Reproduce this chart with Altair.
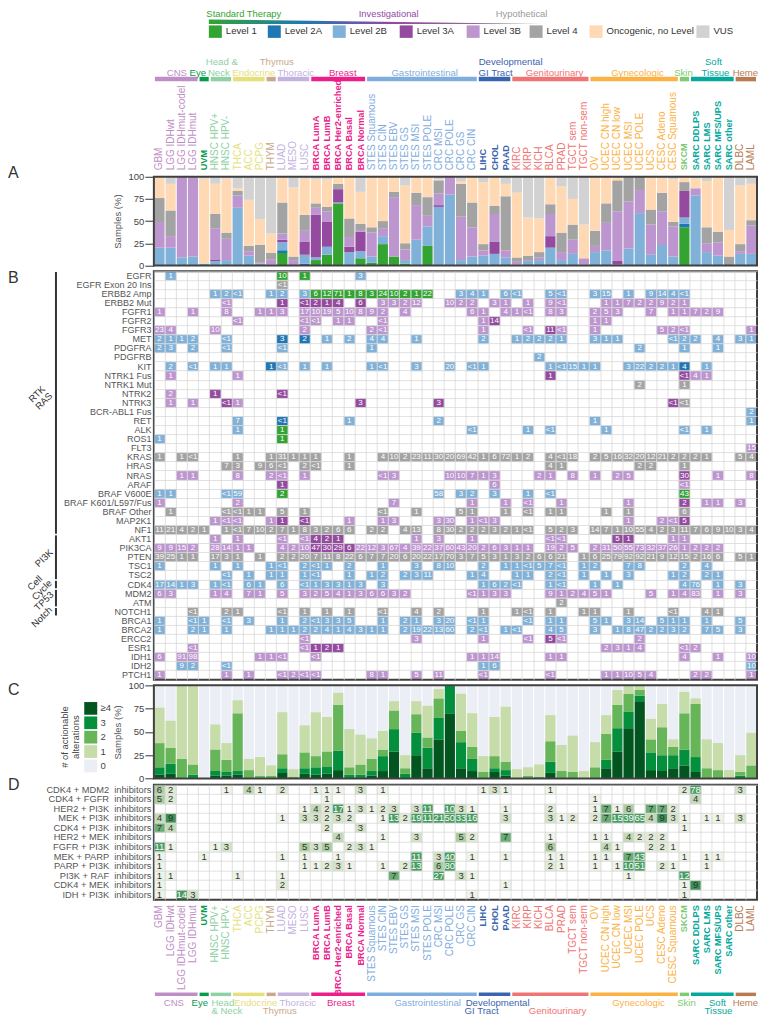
import altair as alt
import pandas as pd

FONT = "Liberation Sans"
W, CW = 603.6, 603.6 / 54
H_TOP, H_A, H_B, H_C, H_D, H_F = 161.1, 88.7, 409.0, 93.2, 115.0, 108.0
GAP = 5.5

SAMPLES = ["GBM","LGG IDHwt","LGG IDHmut-codel","LGG IDHmut","UVM","HNSC HPV+","HNSC HPV-","THCA","ACC","PCPG","THYM",
           "LUAD","MESO","LUSC","BRCA LumA","BRCA LumB","BRCA Her2-enriched","BRCA Basal","BRCA Normal","STES Squamous",
           "STES CIN","STES EBV","STES GS","STES MSI","STES POLE","CRC MSI","CRC POLE","CRC GS","CRC CIN","LIHC","CHOL",
           "PAAD","KIRC","KIRP","KICH","BLCA","PRAD","TGCT sem","TGCT non-sem","OV","UCEC CN high","UCEC CN low",
           "UCEC MSI","UCEC POLE","UCS","CESC Adeno","CESC Squamous","SKCM","SARC DDLPS","SARC LMS","SARC MFS/UPS",
           "SARC other","DLBC","LAML"]
BOLD = {"UVM","LIHC","CHOL","PAAD","SKCM","SARC DDLPS","SARC LMS","SARC MFS/UPS","SARC other"} | {s for s in SAMPLES if s.startswith("BRCA")}

GROUPS = ["CNS","Eye","Head & Neck","Endocrine","Thymus","Thoracic","Breast","Gastrointestinal","Developmental GI Tract",
          "Genitourinary","Gynecologic","Skin","Soft Tissue","Heme"]
GROUP_START = [0,4,5,7,10,11,14,19,29,32,39,47,48,52]
GROUP_END = [4,5,7,10,11,14,19,29,32,39,47,48,52,54]
GROUP_COLOR = ["#c08ec6","#0a9a4e","#8fd0a5","#e6e07c","#c9a98a","#c4b3de","#ec1e8c","#7fadde","#3b64ae","#ef7474",
               "#fbb244","#7fca72","#04a89c","#b87c52"]

LEVELS = ["Level 1","Level 2A","Level 2B","Level 3A","Level 3B","Level 4","Oncogenic, no Level","VUS"]
LEVEL_COLOR = ["#33a432","#1f78b4","#80b1d8","#944a9f","#bd95cf","#a3a3a3","#fed9b4","#d2d2d2"]
LEVEL_SWATCH_X = [209,268,333,400,467,530,590,697]

# Panel A: cumulative top of each level, per sample
A_TOPS = [
 [0,0,20,20,49,76,100,100],[0,0,20,20,33,62,92,100],[0,0,9,9,100,100,100,100],[0,0,10,10,100,100,100,100],
 [0,0,2,2,2,2,98,100],[0,0,5,6,42,58,92,100],[0,0,6,6,30,37,98,100],[0,0,65,65,79,84,87,100],[0,0,11,11,16,22,74,100],
 [0,0,2,2,3,23,52,100],[0,0,1,1,7,14,36,100],[14,17,26,29,36,71,100,100],[0,0,0,0,6,10,88,100],[0,2,12,27,39,57,98,100],
 [6,6,9,57,65,70,97,100],[12,12,21,49,61,66,97,100],[70,70,71,86,86,92,100,100],[0,0,15,21,32,53,100,100],
 [8,8,16,38,40,47,83,100],[3,3,10,10,37,43,100,100],[24,24,33,33,42,50,100,100],[10,10,10,10,77,83,100,100],
 [2,2,6,6,18,25,90,100],[0,0,29,29,68,82,100,100],[22,22,44,44,56,77,100,100],[0,0,66,68,81,96,97,100],
 [0,0,80,80,100,100,100,100],[0,0,6,6,55,92,95,100],[0,0,10,10,43,71,100,100],[0,0,11,11,17,24,94,100],
 [0,0,13,27,58,67,100,100],[0,0,9,9,17,78,92,100],[0,0,1,1,4,9,82,100],[0,0,5,5,6,11,54,100],[0,0,6,6,9,15,53,100],
 [0,0,20,33,58,69,100,100],[0,0,6,6,15,37,89,100],[0,0,13,13,29,46,75,100],[0,0,1,1,8,8,46,100],[0,0,15,15,22,39,100,100],
 [0,0,17,17,48,70,100,100],[0,0,1,5,61,96,99,100],[0,0,19,19,72,100,100,100],[0,0,59,59,85,100,100,100],
 [0,0,12,12,46,63,100,100],[0,0,23,23,61,82,100,100],[0,0,10,10,44,49,97,100],[43,47,54,84,84,94,100,100],
 [0,0,79,79,87,87,98,100],[0,0,15,15,25,43,95,100],[0,0,11,11,26,38,100,100],[0,0,0,0,0,10,40,100],
 [0,0,13,13,16,24,90,100],[0,0,13,13,45,51,92,100]]

# Panel B rows: level token followed by column:label pairs
R_EGFR = "B 1:1 18:3 L1 11:10 13:1"
R_EGFR20 = "G 11:<1"
R_ERBB2A = "B 5:1 6:2 7:<1 10:1 11:2 13:3 27:3 28:4 29:1 31:6 32:<1 35:5 36:<1 39:3 40:15 42:1 44:9 45:14 46:4 47:<1 L1 14:6 15:12 16:71 17:1 18:8 19:3 20:24 21:10 22:2 23:1 24:22"
R_ERBB2M = "Q 6:<1 20:3 21:3 22:2 23:12 26:10 27:2 28:2 30:3 31:1 33:1 35:9 36:<1 40:1 41:1 42:7 43:2 44:2 45:9 46:2 47:1 P 11:1 13:<1 14:2 15:1 16:4 18:6"
R_FGFR1 = "Q 0:1 3:1 6:8 9:1 10:1 11:3 13:17 14:10 15:19 16:5 17:10 18:8 19:9 20:2 22:4 28:6 29:1 31:4 32:1 33:<1 35:8 36:3 39:2 40:5 41:3 44:7 46:1 47:1 48:7 49:2 50:9"
R_FGFR2 = "Q 7:<1 13:<1 14:<1 16:1 17:1 20:<1 29:1 39:1 40:1 P 30:14"
R_FGFR3 = "Q 0:23 1:4 5:10 13:2 19:2 20:<1 29:1 33:<1 36:<1 39:1 45:5 46:2 47:<1 53:1 P 35:11"
R_MET = "B 0:2 1:1 2:1 3:2 6:<1 15:1 17:2 19:4 20:4 23:1 29:2 32:1 33:2 34:2 35:2 36:1 39:3 40:1 41:1 46:<1 47:2 48:2 50:4 52:3 53:1 A 11:3 13:2"
R_PDGFRA = "B 0:2 1:3 3:2 6:<1 11:<1 19:1 43:2 47:1 50:1"
R_PDGFRB = "B 34:2"
R_KIT = "B 1:2 3:<1 5:1 6:1 11:<1 13:1 15:1 19:1 20:<1 23:3 26:20 28:<1 29:1 35:1 36:<1 37:15 38:1 39:1 42:3 43:22 44:2 45:2 46:1 49:1 A 10:1 47:4"
R_NTRK1F = "Q 1:1 7:1 48:4 49:1 P 35:1 47:<1"
R_NTRK1M = "G 43:2 47:1"
R_NTRK2 = "Q 1:2 P 5:1 11:<1"
R_NTRK3 = "Q 1:1 3:1 7:1 P 6:<1 18:3 25:3 46:<1 G 47:<1"
R_BCR = "B 53:2"
R_RET = "B 7:7 17:1 25:2 39:1 53:1 A 11:<1"
R_ALK = "B 7:1 28:<1 33:1 35:<1 40:1 47:<1 49:1 L1 11:1"
R_ROS1 = "B 0:1 L1 11:1"
R_FLT3 = "Q 53:15"
R_KRAS = "G 0:1 2:1 3:<1 7:1 10:1 11:31 12:1 13:1 14:1 17:1 20:4 21:10 22:2 23:23 24:11 25:30 26:20 27:69 28:42 29:1 30:6 31:72 32:1 33:2 35:4 36:<1 37:18 39:2 40:5 41:16 42:32 43:20 44:12 45:21 46:2 47:2 48:2 49:1 52:5 53:4"
R_HRAS = "G 6:7 7:3 9:9 10:6 11:<1 13:2 14:<1 17:1 35:4 36:1 43:2 44:2 47:1"
R_NRAS = "Q 2:1 3:1 7:8 10:2 11:<1 13:1 20:<1 21:3 26:10 27:10 28:7 29:1 30:3 34:2 35:1 37:8 39:1 41:2 42:5 50:1 53:8 P 47:30"
R_ARAF = "P 11:1 Q 30:6 47:<1"
R_V600E = "B 0:1 1:1 6:<1 7:59 25:58 27:3 28:2 30:3 33:1 35:<1 L1 11:2 47:43"
R_K601 = "Q 0:1 7:2 21:7 28:1 31:1 33:<1 36:1 42:1 49:1 50:1 52:3 P 47:2"
R_BRAFO = "G 1:1 6:<1 7:<1 8:1 9:1 11:5 13:1 20:<1 23:1 27:5 28:1 31:1 33:<1 35:1 36:1 40:1 42:1 47:6"
R_MAP2K1 = "Q 5:1 6:<1 7:<1 10:1 17:1 20:1 21:3 25:3 26:30 28:1 29:<1 30:3 42:1 45:2 46:<1 P 11:1 13:<1 47:5"
R_NF1 = "G 0:11 1:21 2:4 3:2 4:1 6:1 7:<1 8:7 9:10 10:2 11:7 12:1 13:8 14:3 15:2 16:6 17:6 19:2 20:2 22:4 23:13 25:8 26:30 27:2 28:2 29:2 30:3 31:2 32:1 33:<1 35:5 36:2 37:3 39:14 40:7 41:1 42:10 43:55 44:4 45:2 46:3 47:11 48:7 49:6 50:9 51:10 52:3 53:4"
R_AKT1 = "Q 5:1 7:1 11:<1 13:<1 23:1 25:3 28:1 35:<1 36:<1 46:1 47:1 P 14:4 15:2 16:1 41:5 42:1"
R_PIK3CA = "Q 0:9 1:9 2:15 3:2 5:28 6:14 7:1 8:1 11:4 12:2 13:10 18:22 19:12 20:3 21:67 22:4 23:39 24:22 25:37 26:60 27:43 28:20 29:2 30:6 31:3 32:1 33:1 35:19 36:2 37:5 39:2 40:31 41:50 42:55 43:73 44:32 45:37 46:26 47:1 48:2 49:2 50:2 P 14:47 15:30 16:29 17:6"
R_PTEN = "G 0:39 1:25 2:1 3:1 5:17 6:3 7:1 9:1 11:2 12:2 13:20 14:7 15:11 16:8 17:22 18:6 19:7 20:7 21:20 22:6 23:20 24:22 25:17 26:70 27:3 28:7 29:5 30:3 31:1 32:3 33:2 34:6 35:6 36:21 38:1 39:6 40:25 41:79 42:92 43:92 44:21 45:9 46:12 47:15 48:2 49:16 50:6 52:5 53:1"
R_TSC1 = "B 0:1 5:1 7:1 10:1 11:<1 13:2 14:<1 15:1 17:2 20:1 23:3 25:8 26:10 29:2 31:1 32:1 33:<1 34:5 35:7 36:<1 38:1 39:2 42:7 43:8 47:2 49:4"
R_TSC2 = "B 6:<1 8:1 10:1 11:1 13:1 14:<1 17:1 19:1 20:2 22:2 23:3 24:11 28:1 29:4 32:1 33:1 35:2 36:<1 38:1 40:1 42:3 46:1 47:2 49:2 50:1"
R_CDK4 = "B 0:17 1:14 2:1 3:3 5:1 6:<1 8:6 9:1 11:6 13:<1 14:1 15:3 16:3 17:1 18:3 20:3 29:1 30:6 31:2 32:<1 35:1 36:<1 39:1 41:1 47:4 48:76 50:1 52:3"
R_MDM2 = "Q 0:6 1:3 5:1 6:4 8:7 9:1 11:5 13:3 14:2 15:5 16:4 17:1 18:3 19:6 20:6 21:3 22:2 28:<1 29:1 30:3 31:3 35:9 36:1 37:2 38:4 39:5 40:1 44:5 46:1 47:4 48:83 50:1 52:3"
R_ATM = "G 36:2"
R_NOTCH1 = "G 3:<1 6:2 7:1 11:<1 13:1 15:1 17:1 20:<1 23:4 25:2 29:1 32:1 33:<1 35:1 38:1 39:1 42:1 46:<1 49:4 50:1"
R_BRCA1 = "B 0:1 3:<1 4:1 6:<1 8:3 11:1 13:2 14:<1 15:3 16:3 17:5 20:1 22:2 23:1 25:3 26:20 28:<1 29:1 33:<1 35:1 36:1 39:5 40:1 42:3 43:14 45:5 46:1 47:1 49:1 52:5"
R_BRCA2 = "B 0:1 3:2 4:1 6:1 10:1 11:1 12:1 13:2 14:2 15:4 16:1 17:4 18:3 19:1 20:1 22:2 23:19 24:22 25:13 26:60 28:2 29:<1 31:1 32:<1 35:4 36:5 39:3 41:1 42:8 43:47 44:2 45:2 46:3 47:2 49:7 50:5 52:3"
R_ERCC2 = "Q 13:<1 23:3 29:1 33:<1 36:<1 43:2 P 35:5"
R_ESR1 = "Q 3:<1 13:<1 40:2 41:3 42:1 43:4 47:<1 48:2 P 14:1 15:2 16:1"
R_IDH1 = "Q 0:6 2:91 3:98 9:1 10:1 11:<1 14:<1 28:1 29:1 30:14 35:1 36:1 47:4 50:1 53:10"
R_IDH2 = "B 2:9 3:2 6:<1 29:1 30:6 53:10"
R_PTCH1 = "Q 0:1 6:1 8:1 11:<1 12:2 13:<1 14:<1 19:8 20:1 23:5 25:11 29:<1 35:<1 40:1 41:1 42:10 43:5 44:4 48:2 49:2 53:1"

ROW_LABELS = ["EGFR","EGFR Exon 20 Ins","ERBB2 Amp","ERBB2 Mut","FGFR1","FGFR2","FGFR3","MET","PDGFRA","PDGFRB","KIT",
              "NTRK1 Fus","NTRK1 Mut","NTRK2","NTRK3","BCR-ABL1 Fus","RET","ALK","ROS1","FLT3","KRAS","HRAS","NRAS","ARAF",
              "BRAF V600E","BRAF K601/L597/Fus","BRAF Other","MAP2K1","NF1","AKT1","PIK3CA","PTEN","TSC1","TSC2","CDK4",
              "MDM2","ATM","NOTCH1","BRCA1","BRCA2","ERCC2","ESR1","IDH1","IDH2","PTCH1"]
ROW_CELLS = [R_EGFR,R_EGFR20,R_ERBB2A,R_ERBB2M,R_FGFR1,R_FGFR2,R_FGFR3,R_MET,R_PDGFRA,R_PDGFRB,R_KIT,R_NTRK1F,R_NTRK1M,
             R_NTRK2,R_NTRK3,R_BCR,R_RET,R_ALK,R_ROS1,R_FLT3,R_KRAS,R_HRAS,R_NRAS,R_ARAF,R_V600E,R_K601,R_BRAFO,R_MAP2K1,
             R_NF1,R_AKT1,R_PIK3CA,R_PTEN,R_TSC1,R_TSC2,R_CDK4,R_MDM2,R_ATM,R_NOTCH1,R_BRCA1,R_BRCA2,R_ERCC2,R_ESR1,
             R_IDH1,R_IDH2,R_PTCH1]
LEVEL_CODE = {"L1":LEVEL_COLOR[0],"A":LEVEL_COLOR[1],"B":LEVEL_COLOR[2],"P":LEVEL_COLOR[3],"Q":LEVEL_COLOR[4],"G":LEVEL_COLOR[5]}

PATHWAYS = [("RTK","RAS"),("PI3K",""),("Cell","Cycle"),("TP53",""),("Notch","")]
PATH_FIRST = [0,29,34,35,37]
PATH_LAST = [28,33,34,36,37]
PATH_TEXT_XY = [(37,392),(44,556),(35,581),(44,599),(42,615)]

# Panel C: cumulative tops for >=4, 3, 2, 1 alterations
C_TOPS = [[4,12,38,76],[5,16,33,62],[0,0,21,100],[0,4,15,100],[0,0,0,0],[3,8,31,58],[3,7,20,38],[4,8,70,84],[0,0,9,21],
 [0,0,3,23],[0,0,3,14],[6,11,26,71],[0,0,2,10],[5,11,28,57],[4,12,24,71],[5,13,29,66],[9,30,79,92],[0,4,12,53],[0,4,15,47],
 [3,8,21,43],[8,24,31,51],[29,53,73,83],[0,5,11,25],[25,49,69,83],[11,33,44,78],[42,65,86,96],[70,100,100,100],[11,39,51,91],
 [8,21,34,70],[0,0,7,24],[7,11,24,66],[3,9,18,77],[0,0,0,10],[0,0,3,12],[0,0,2,15],[6,18,40,68],[0,0,8,36],[0,0,7,46],
 [0,0,0,8],[0,0,12,39],[11,20,48,68],[29,54,79,95],[54,72,91,100],[83,89,95,100],[9,28,42,64],[8,25,55,80],[11,25,34,42],
 [14,31,70,93],[7,23,80,86],[0,0,11,42],[0,0,9,38],[0,0,0,9],[0,3,7,25],[0,0,14,49]]
C_LABELS = ["\u22654","3","2","1","0"]
C_COLORS = ["#03551f","#038f3c","#66b558","#c6dca9","#eceef6"]

D_ROWS = ["CDK4 + MDM2","CDK4 + FGFR","HER2 + PI3K","MEK + PI3K","CDK4 + PI3K","HER2 + MEK","FGFR + PI3K","MEK + PARP",
          "PARP + PI3K","PI3K + RAF","CDK4 + MEK","IDH + PI3K"]
D_1 = "0:6 1:2 6:1 8:4 9:1 11:2 14:1 15:1 16:1 18:3 20:1 29:1 30:3 31:1 35:1 47:2 48:78 52:3"
D_2 = "0:5 1:2 15:1 39:1 48:4"
D_3 = "13:1 14:4 15:2 16:17 17:1 18:3 19:1 20:2 21:3 23:3 24:11 26:10 27:3 28:1 31:1 35:2 39:1 40:7 41:1 42:6 44:7 45:7 46:2"
D_4 = "0:4 1:9 11:1 13:3 14:3 15:2 16:3 17:2 20:1 21:13 22:2 23:19 24:11 25:21 26:50 27:33 28:16 31:3 35:3 36:1 37:2 39:2 40:7 41:15 42:39 43:65 44:4 45:9 46:3 47:1 49:1 50:1 52:3"
D_5 = "0:7 1:4 15:2 18:3 47:1"
D_6 = "16:4 20:1 23:3 27:5 28:2 31:7 35:1 39:1 40:1 42:4 43:2 44:2 45:2"
D_7 = "0:11 1:1 5:1 6:3 13:5 14:3 15:5 17:2 18:3 19:1 35:6 40:4 41:1 44:2 45:2 46:1"
D_8 = "0:1 4:1 11:1 13:1 16:1 23:11 25:3 26:40 28:1 31:1 35:1 36:1 39:1 40:1 42:7 43:43 47:1 49:1 50:1"
D_9 = "0:1 13:1 14:1 15:2 16:3 17:1 20:1 22:2 23:13 25:6 26:80 35:2 36:1 39:1 41:1 42:10 43:51 45:2 46:1 49:1"
D_10 = "0:1 1:1 7:1 11:1 21:7 25:27 27:3 28:1 42:1 47:12"
D_11 = "0:1 11:2 31:1 47:1 48:9"
D_12 = "0:1 2:14 3:3 28:1 47:1"
D_CELLS = [D_1,D_2,D_3,D_4,D_5,D_6,D_7,D_8,D_9,D_10,D_11,D_12]
D_BREAKS = [2,3,4,5,7,9,10]
D_SHADES = ["#eef4e8","#e0ebd6","#d2e3c6","#c3dab6","#abce9f","#6aae76","#3f9055","#479c60"]

TOP_PHASES = ["Standard Therapy","Investigational","Hypothetical"]
TOP_PHASE_X = [244,389,522]
TOP_PHASE_COLOR = ["#33a432","#944a9f","#9a9a9a"]
WEDGE_X = [209,543]
WEDGE_TOP = [18,22.5]

TOP_GROUP_TEXT = [("CNS",177,71.5,0),("Eye",198,71.5,1),("Head &",222,60.5,2),("Neck",219,71.5,2),("Endocrine",254,71.5,3),
                  ("Thymus",277,60.5,4),("Thoracic",296,71.5,5),("Breast",343,71.5,6),("Gastrointestinal",425,71.5,7),
                  ("Developmental",511,60.5,8),("GI Tract",496,71.5,8),("Genitourinary",555,71.5,9),("Gynecologic",638,71.5,10),
                  ("Skin",684,71.5,11),("Soft",714,60.5,12),("Tissue",716,71.5,12),("Heme",746,71.5,13)]
BOTTOM_GROUP_TEXT = [("CNS",174,1000,0),("Eye",200,1000,1),("Head",223,1000,2),("& Neck",227,1008.5,2),("Endocrine",256,1000,3),
                     ("Thymus",280,1008.5,4),("Thoracic",298,1000,5),("Breast",341,1000,6),("Gastrointestinal",428,1000,7),
                     ("Developmental",498,1000,8),("GI Tract",482,1008.5,8),("Genitourinary",558,1008.5,9),("Gynecologic",639,1000,10),
                     ("Skin",687,1000,11),("Soft",718,1000,12),("Tissue",719,1008.5,12),("Heme",746,1000,13)]

LEFT, TOP_A = 154.0, 174.6
TOP_H = 8.0
TOP_B = TOP_A + H_A + GAP
TOP_C = TOP_B + H_B + GAP
TOP_D = TOP_C + H_C + GAP
TOP_F = TOP_D + H_D + GAP

ONE = pd.DataFrame({"k": [0]})
px_x = alt.Scale(domain=[0, W], range=[0, W])
def px_y(h):
    return alt.Scale(domain=[0, h], range=[0, h])
band_bar = alt.Scale(domain=SAMPLES, paddingInner=0.09, paddingOuter=0.045)
band_cell = alt.Scale(domain=SAMPLES, paddingInner=0, paddingOuter=0)
NOVIEW = alt.ViewConfig(stroke="transparent", strokeWidth=0)

def frame(h):
    return alt.Chart(ONE).mark_rect(filled=False, stroke="#404040", strokeWidth=2).encode(
        x=alt.value(0), x2=alt.value(W), y=alt.value(0), y2=alt.value(h))

def letter(t, y):
    return alt.Chart(pd.DataFrame({"t": [t]})).mark_text(align="left", baseline="middle", fontSize=16, font=FONT, color="#333333").encode(
        x=alt.value(-LEFT + 8), y=alt.value(y), text="t:N")

def sample_labels(h, anchor_y, align):
    out = []
    df = pd.DataFrame({"s": SAMPLES, "px": [(i + .5) * CW for i in range(len(SAMPLES))],
                       "c": [GROUP_COLOR[next(g for g in range(len(GROUPS)) if GROUP_START[g] <= i < GROUP_END[g])] for i in range(len(SAMPLES))],
                       "b": [s in BOLD for s in SAMPLES]})
    for bold, size in ((False, 10), (True, 9.2)):
        out.append(alt.Chart(df[df.b == bold]).mark_text(angle=270, align=align, baseline="middle", font=FONT, fontSize=size,
                                                         fontWeight="bold" if bold else "normal").encode(
            x=alt.X("px:Q", scale=px_x, axis=None), y=alt.value(anchor_y),
            text="s:N", color=alt.Color("c:N", scale=None)))
    return out

def group_layer(h, y0, y1, texts, page_top):
    bars = pd.DataFrame({"x0": [s * CW + 1 for s in GROUP_START], "x1": [e * CW - 1 for e in GROUP_END], "c": GROUP_COLOR,
                         "y0": [y0] * len(GROUPS), "y1": [y1] * len(GROUPS)})
    bar = alt.Chart(bars).mark_rect().encode(
        x=alt.X("x0:Q", scale=px_x, axis=None), x2="x1:Q",
        y=alt.Y("y0:Q", scale=px_y(h), axis=None), y2="y1:Q", color=alt.Color("c:N", scale=None))
    t = pd.DataFrame({"t": [a[0] for a in texts], "x": [a[1] - LEFT for a in texts], "y": [a[2] - page_top for a in texts],
                      "c": [GROUP_COLOR[a[3]] for a in texts]})
    txt = alt.Chart(t).mark_text(font=FONT, fontSize=9.6, baseline="middle", align="center").encode(
        x=alt.X("x:Q", scale=px_x, axis=None), y=alt.Y("y:Q", scale=px_y(h), axis=None),
        text="t:N", color=alt.Color("c:N", scale=None))
    return [bar, txt]

# ---- header
phase = pd.DataFrame({"t": TOP_PHASES, "x": [v - LEFT for v in TOP_PHASE_X], "c": TOP_PHASE_COLOR})
h_phase = alt.Chart(phase).mark_text(font=FONT, fontSize=9.4, baseline="middle").encode(
    x=alt.X("x:Q", scale=px_x, axis=None), y=alt.value(4.8), text="t:N", color=alt.Color("c:N", scale=None))
wedge = pd.DataFrame({"x": [v - LEFT for v in WEDGE_X], "y": [v - TOP_H for v in WEDGE_TOP], "y2": [22.5 - TOP_H] * 2})
h_wedge = alt.Chart(wedge).mark_area(color=alt.Gradient(gradient="linear", x1=0, x2=1, y1=0, y2=0, stops=[
    alt.GradientStop(color="#33a432", offset=0), alt.GradientStop(color="#1f78b4", offset=0.28),
    alt.GradientStop(color="#944a9f", offset=0.55), alt.GradientStop(color="#8a8a8a", offset=1)])).encode(
    x=alt.X("x:Q", scale=px_x, axis=None), y=alt.Y("y:Q", scale=px_y(H_TOP), axis=None), y2="y2:Q")
sw = pd.DataFrame({"t": LEVELS, "c": LEVEL_COLOR, "x": [v - LEFT for v in LEVEL_SWATCH_X],
                   "x2": [v - LEFT + 13 for v in LEVEL_SWATCH_X], "tx": [v - LEFT + 17 for v in LEVEL_SWATCH_X],
                   "y": [24 - TOP_H] * 8, "y2": [36.5 - TOP_H] * 8})
h_sw = alt.Chart(sw).mark_rect().encode(x=alt.X("x:Q", scale=px_x, axis=None), x2="x2:Q",
    y=alt.Y("y:Q", scale=px_y(H_TOP), axis=None), y2="y2:Q", color=alt.Color("c:N", scale=None))
h_swt = alt.Chart(sw).mark_text(font=FONT, fontSize=9.6, align="left", baseline="middle", color="#333333").encode(
    x=alt.X("tx:Q", scale=px_x, axis=None), y=alt.value(30 - TOP_H), text="t:N")
header = alt.layer(h_phase, h_wedge, h_sw, h_swt,
                   *group_layer(H_TOP, 75.5 - TOP_H, 80 - TOP_H, TOP_GROUP_TEXT, TOP_H),
                   *sample_labels(H_TOP, H_TOP, "left")).properties(width=W, height=H_TOP, view=NOVIEW)

# ---- panel A
a_rows = []
for i, tops in enumerate(A_TOPS):
    prev = 0
    for j, top in enumerate(tops):
        if top > prev:
            a_rows.append({"s": SAMPLES[i], "y0": prev, "y1": top, "c": LEVEL_COLOR[j]})
        prev = top
y_pct = lambda h: alt.Y("y0:Q", scale=alt.Scale(domain=[0, 100]), axis=alt.Axis(
    values=[0, 25, 50, 75, 100], title="Samples (%)", titleFont=FONT, titleFontSize=9.5, titleFontWeight="normal",
    titleColor="#555555", titleX=-31, titleY=h / 2, labelFont=FONT, labelFontSize=9.5, labelColor="#444444",
    labelPadding=1, tickSize=9, tickColor="#333333", domain=False, grid=False))
pa_bars = alt.Chart(pd.DataFrame(a_rows)).mark_rect().encode(
    x=alt.X("s:N", scale=band_bar, axis=None), y=y_pct(H_A), y2="y1:Q", color=alt.Color("c:N", scale=None))
panel_a = alt.layer(pa_bars, frame(H_A), letter("A", -4)).properties(width=W, height=H_A, view=NOVIEW)

# ---- panel B
def parse_levels(text):
    level, out = None, []
    for tok in text.split():
        if ":" in tok:
            c, lab = tok.split(":")
            out.append((int(c), lab, level))
        else:
            level = tok
    return out

b_rows = []
for label, cells in zip(ROW_LABELS, ROW_CELLS):
    for c, lab, lev in parse_levels(cells):
        b_rows.append({"s": SAMPLES[c], "r": label, "t": lab, "c": LEVEL_CODE[lev]})
b_df = pd.DataFrame(b_rows)
def x_grid():
    return alt.X("s:N", scale=band_cell, axis=alt.Axis(labels=False, ticks=False, domain=False, title=None, grid=True,
                 gridColor="#d4d4d4", gridWidth=0.7, bandPosition=0))
def y_grid(domain, size):
    return alt.Y("r:N", scale=alt.Scale(domain=domain, paddingInner=0, paddingOuter=0), axis=alt.Axis(
        title=None, ticks=False, domain=False, grid=True, gridColor="#d4d4d4", gridWidth=0.7, bandPosition=0,
        labelFont=FONT, labelFontSize=size, labelColor="#555555", labelPadding=3, labelLimit=200))
pb_cell = alt.Chart(b_df).mark_rect(stroke="#e6e6e6", strokeWidth=0.4).encode(
    x=x_grid(), y=y_grid(ROW_LABELS, 9), color=alt.Color("c:N", scale=None))
pb_text = alt.Chart(b_df).mark_text(font=FONT, fontSize=8, color="white", baseline="middle").encode(
    x=alt.X("s:N", scale=band_cell, axis=None), y=alt.Y("r:N", scale=alt.Scale(domain=ROW_LABELS, paddingInner=0, paddingOuter=0), axis=None), text="t:N")
RH = H_B / len(ROW_LABELS)
path = pd.DataFrame({"y": [f * RH + 0.8 for f in PATH_FIRST], "y2": [(l + 1) * RH - 0.8 for l in PATH_LAST]})
pb_path = alt.Chart(path).mark_rect(color="#333333").encode(
    x=alt.value(56 - LEFT - 1), x2=alt.value(56 - LEFT + 1),
    y=alt.Y("y:Q", scale=px_y(H_B), axis=None), y2="y2:Q")
pt = []
for (a, b), (px, py) in zip(PATHWAYS, PATH_TEXT_XY):
    pt.append({"t": a, "x": px - LEFT, "y": py - TOP_B})
    if b:
        pt.append({"t": b, "x": px + 7 - LEFT, "y": py + 7 - TOP_B})
pb_pt = alt.Chart(pd.DataFrame(pt)).mark_text(angle=315, font=FONT, fontSize=9.5, color="#333333", baseline="middle").encode(
    x=alt.X("x:Q", scale=px_x, axis=None), y=alt.Y("y:Q", scale=px_y(H_B), axis=None), text="t:N")
panel_b = alt.layer(pb_cell, pb_text, frame(H_B), letter("B", 7),
                    pb_path, pb_pt).resolve_scale(x="independent", y="independent").properties(width=W, height=H_B, view=NOVIEW)

# ---- panel C
c_rows = []
for i, tops in enumerate(C_TOPS):
    c_rows.append({"s": SAMPLES[i], "y0": 0, "y1": 100, "c": C_COLORS[4], "o": 0})
    prev = 0
    for j, top in enumerate(tops):
        if top > prev:
            c_rows.append({"s": SAMPLES[i], "y0": prev, "y1": top, "c": C_COLORS[j], "o": 1})
        prev = top
pc_bars = alt.Chart(pd.DataFrame(c_rows)).mark_rect().encode(
    x=alt.X("s:N", scale=band_bar, axis=None), y=y_pct(H_C), y2="y1:Q", color=alt.Color("c:N", scale=None),
    order="o:Q")
LEG_Y = [700 + 14.4 * i - TOP_C for i in range(5)]
leg = pd.DataFrame({"t": C_LABELS, "c": C_COLORS, "y": LEG_Y, "y2": [v + 12.7 for v in LEG_Y], "ym": [v + 6.4 for v in LEG_Y]})
pc_sw = alt.Chart(leg).mark_rect().encode(
    x=alt.value(84.3 - LEFT), x2=alt.value(97.3 - LEFT),
    y=alt.Y("y:Q", scale=px_y(H_C), axis=None), y2="y2:Q", color=alt.Color("c:N", scale=None))
pc_st = alt.Chart(leg).mark_text(font=FONT, fontSize=9.5, align="left", baseline="middle", color="#444444").encode(
    x=alt.value(100.5 - LEFT), y=alt.Y("ym:Q", scale=px_y(H_C), axis=None), text="t:N")
leg_title = pd.DataFrame({"t": ["# of actionable", "alterations"], "x": [65 - LEFT, 76.5 - LEFT], "y": [735 - TOP_C] * 2})
pc_lt = alt.Chart(leg_title).mark_text(font=FONT, fontSize=9.5, angle=270, color="#444444", baseline="middle").encode(
    x=alt.X("x:Q", scale=px_x, axis=None), y=alt.Y("y:Q", scale=px_y(H_C), axis=None), text="t:N")
panel_c = alt.layer(pc_bars, frame(H_C), letter("C", 5), pc_sw, pc_st, pc_lt).resolve_scale(
    x="independent", y="independent").properties(width=W, height=H_C, view=NOVIEW)

# ---- panel D
d_labels = [r + "\u00a0\u00a0inhibitors" for r in D_ROWS]
d_rows = []
for label, cells in zip(d_labels, D_CELLS):
    for tok in cells.split():
        c, v = tok.split(":")
        d_rows.append({"s": SAMPLES[int(c)], "r": label, "v": int(v)})
d_df = pd.DataFrame(d_rows)
d_df["w"] = d_df.v >= 10
pd_cell = alt.Chart(d_df).mark_rect(stroke="#e6e6e6", strokeWidth=0.4).encode(
    x=x_grid(), y=y_grid(d_labels, 9.3),
    color=alt.Color("v:Q", scale=alt.Scale(type="threshold", domain=D_BREAKS, range=D_SHADES), legend=None))
d_y = alt.Y("r:N", scale=alt.Scale(domain=d_labels, paddingInner=0, paddingOuter=0), axis=None)
pd_text = alt.Chart(d_df).mark_text(font=FONT, fontSize=9.5, baseline="middle").encode(
    x=alt.X("s:N", scale=band_cell, axis=None), y=d_y, text="v:Q",
    color=alt.Color("w:N", scale=alt.Scale(domain=[False, True], range=["#333333", "#ffffff"]), legend=None))
panel_d = alt.layer(pd_cell, pd_text, frame(H_D), letter("D", 0)).resolve_scale(
    x="independent", y="independent", color="independent").properties(width=W, height=H_D, view=NOVIEW)

# ---- footer
footer = alt.layer(*sample_labels(H_F, 0, "right"),
                   *group_layer(H_F, 990 - TOP_F, 993.5 - TOP_F, BOTTOM_GROUP_TEXT, TOP_F)).properties(
    width=W, height=H_F, view=NOVIEW)

chart = alt.vconcat(header, panel_a, panel_b, panel_c, panel_d, footer, spacing=GAP, bounds="flush").resolve_scale(
    color="independent").properties(padding=0, background="white")
chart.save("out.html", embed_options={"renderer": "svg", "actions": False})
